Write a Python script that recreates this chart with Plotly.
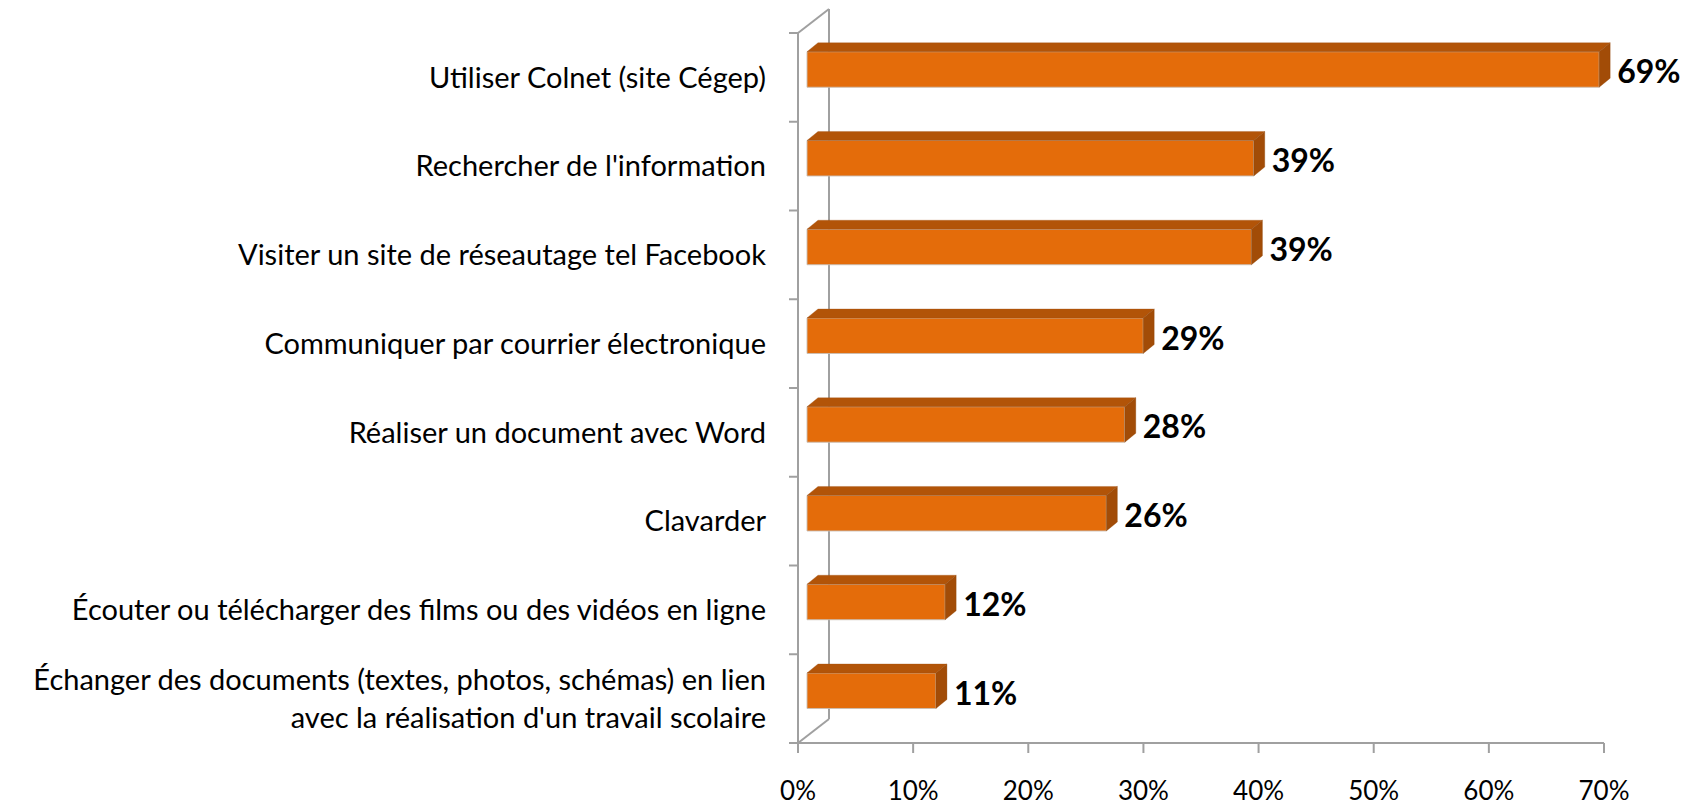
import plotly.graph_objects as go

# ---- data ----
categories = [
    "Utiliser Colnet (site Cégep)",
    "Rechercher de l'information",
    "Visiter un site de réseautage tel Facebook",
    "Communiquer par courrier électronique",
    "Réaliser un document avec Word",
    "Clavarder",
    "Écouter ou télécharger des films ou des vidéos en ligne",
    "Échanger des documents (textes, photos, schémas) en lien<br>avec la réalisation d'un travail scolaire",
]
values = [68.8, 38.8, 38.6, 29.2, 27.6, 26.0, 12.0, 11.2]
value_labels = ["69%", "39%", "39%", "29%", "28%", "26%", "12%", "11%"]
x_tick_values = [0, 10, 20, 30, 40, 50, 60, 70]
x_tick_labels = ["0%", "10%", "20%", "30%", "40%", "50%", "60%", "70%"]

# ---- geometry (page pixel layout; the page body adds an 8px offset) ----
OFF = 8.0
W, H = 1698 - 8, 806 - 8
px0, px70 = 798.0, 1604.0          # page pixel of 0% and 70%
sx = (px70 - px0) / 70.0           # px per percent
py0, py8 = 743.0, 33.0             # page pixel of category floor / top
sy = (py0 - py8) / 8.0             # px per category

L, R, T, B = 780.0, 1698.0, 8.0, 760.0   # page pixels of plot area
xmin, xmax = (L - px0) / sx, (R - px0) / sx
ymin, ymax = -(B - py0) / sy, (py0 - T) / sy

n = len(categories)
ypos = {k: (n - 1 - k) for k in range(n)}   # first category at top

wall_dx, wall_dy = 31.0 / sx, 24.0 / sy
bar_base = 9.0 / sx
bar_lo, bar_hi = 0.389, 0.789
bdx, bdy = 11.0 / sx, 9.0 / sy

front = "#E46C0A"
topc = "#B25408"
sidec = "#A24C07"
grey = "#A0A0A0"

fig = go.Figure()

yc = [ypos[k] + (bar_lo + bar_hi) / 2 for k in range(n)]
fig.add_trace(go.Bar(
    orientation="h",
    y=yc, x=values, base=[bar_base] * n,
    width=bar_hi - bar_lo,
    marker=dict(color=front, line=dict(color="rgba(200,190,180,0.9)", width=1)),
    hoverinfo="skip",
))

shapes = []
for k in range(n):
    i = ypos[k]
    v = values[k]
    x0, x1 = bar_base, bar_base + v
    y0, y1 = i + bar_lo, i + bar_hi
    top = f"M {x0},{y1} L {x1},{y1} L {x1+bdx},{y1+bdy} L {x0+bdx},{y1+bdy} Z"
    side = f"M {x1},{y0} L {x1+bdx},{y0+bdy} L {x1+bdx},{y1+bdy} L {x1},{y1} Z"
    shapes.append(dict(type="path", path=top, xref="x", yref="y", fillcolor=topc,
                       line=dict(color="rgba(160,80,20,0.6)", width=0.5), layer="above"))
    shapes.append(dict(type="path", path=side, xref="x", yref="y", fillcolor=sidec,
                       line=dict(color="rgba(140,70,10,0.6)", width=0.5), layer="above"))

def ln(xa, ya, xb, yb, layer="below"):
    return dict(type="line", xref="x", yref="y", x0=xa, y0=ya, x1=xb, y1=yb,
                line=dict(color=grey, width=2), layer=layer)

shapes.append(ln(0, 0, 0, n))
shapes.append(ln(wall_dx, wall_dy, wall_dx, n + wall_dy))
shapes.append(ln(0, n, wall_dx, n + wall_dy))
shapes.append(ln(0, 0, wall_dx, wall_dy))
shapes.append(ln(0, 0, x_tick_values[-1], 0))
for j in range(n + 1):
    shapes.append(ln(-9.0 / sx, j, 0, j))
for tv in x_tick_values:
    shapes.append(ln(tv, 0, tv, -10.0 / sy))

fig.add_trace(go.Scatter(
    x=[bar_base + v + bdx + 7.0 / sx for v in values],
    y=[ypos[k] + (bar_lo + bar_hi) / 2 - 0.065 for k in range(n)],
    mode="text", text=value_labels, textposition="middle right",
    textfont=dict(family="Lato", size=32, color="black", weight="bold"),
    hoverinfo="skip", cliponaxis=False,
))

fig.update_layout(
    width=W, height=H,
    margin=dict(l=L - OFF, r=(W + OFF) - R, t=T - OFF, b=(H + OFF) - B),
    paper_bgcolor="white", plot_bgcolor="white",
    showlegend=False, shapes=shapes,
    font=dict(family="Lato", size=26, color="black"),
    xaxis=dict(range=[xmin, xmax], tickvals=x_tick_values, ticktext=x_tick_labels,
               showgrid=False, zeroline=False, showline=False, ticks="",
               automargin=False, ticklabelstandoff=13,
               tickfont=dict(family="Lato", size=26, color="black")),
    yaxis=dict(range=[ymin, ymax], tickvals=[ypos[k] + 0.5 for k in range(n)],
               ticktext=categories, showgrid=False, zeroline=False, showline=False,
               ticks="", automargin=False, ticklabelstandoff=13,
               tickfont=dict(family="Lato", size=29, color="black")),
)

fig.write_html("out.html")
